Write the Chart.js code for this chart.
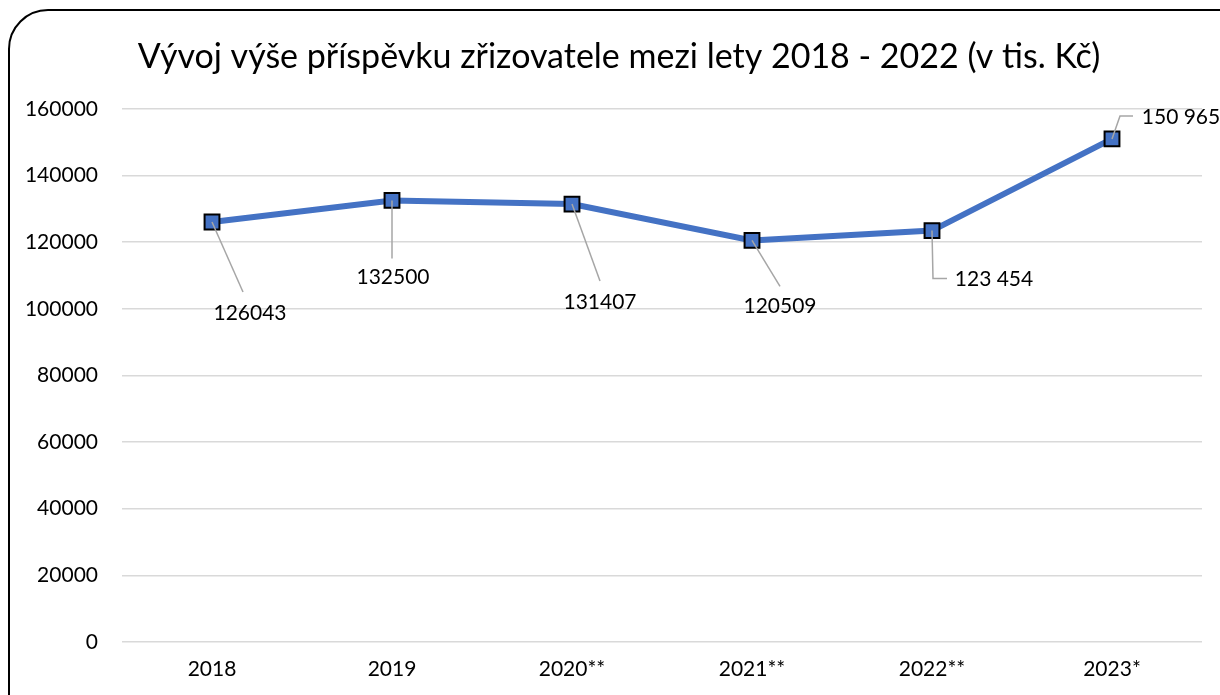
<!DOCTYPE html>
<html>
<head>
<meta charset="utf-8">
<script src="https://cdn.jsdelivr.net/npm/chart.js@4"></script>
<style>
  html, body { margin: 0; padding: 0; background: #fff; overflow: hidden; }
  #wrap { position: relative; width: 1220px; height: 695px; overflow: hidden; }
  #frame { position: absolute; left: 8px; top: 9px; width: 1260px; height: 730px;
           border: 2px solid #000; border-radius: 40px; box-sizing: border-box; }
  canvas { position: absolute; left: 0; top: 0; }
</style>
</head>
<body>
<div id="wrap">
  <div id="frame"></div>
  <canvas id="c" width="1220" height="695"></canvas>
</div>
<script>
const years = ['2018', '2019', '2020**', '2021**', '2022**', '2023*'];
const amounts = [126043, 132500, 131407, 120509, 123454, 150965];
const labelTexts = ['126043', '132500', '131407', '120509', '123 454', '150 965'];
const yTicks = [0, 20000, 40000, 60000, 80000, 100000, 120000, 140000, 160000];

const FONT = 'Lato, "Open Sans", sans-serif';

// label centre + leader path, relative to each point (px)
const labelPlacement = [
  { dx: 38, dy: 91, path: [[31, 70]] },
  { dx: 1, dy: 77, path: [[0, 58]] },
  { dx: 28, dy: 98, path: [[28, 77]] },
  { dx: 28, dy: 66, path: [[28, 46]] },
  { dx: 62, dy: 49, path: [[1, 48], [15, 48]] },
  { dx: 69, dy: -22, path: [[8, -23], [21, -23]] }
];

const leaderLabels = {
  id: 'leaderLabels',
  afterLayout(chart) {
    // centre the title a bit more to the right, like the original
    if (chart.titleBlock) chart.titleBlock.left = 36;
  },
  afterDatasetsDraw(chart) {
    const ctx = chart.ctx;
    const pts = chart.getDatasetMeta(0).data;
    ctx.save();
    pts.forEach((p, i) => {
      const pl = labelPlacement[i];
      ctx.strokeStyle = '#a6a6a6';
      ctx.lineWidth = 1.5;
      ctx.beginPath();
      ctx.moveTo(p.x, p.y);
      pl.path.forEach(([dx, dy]) => ctx.lineTo(p.x + dx, p.y + dy));
      ctx.stroke();
      ctx.fillStyle = '#000';
      ctx.font = '21px ' + FONT;
      ctx.textAlign = 'center';
      ctx.textBaseline = 'middle';
      ctx.fillText(labelTexts[i], p.x + pl.dx, p.y + pl.dy);
    });
    ctx.restore();
  }
};

new Chart(document.getElementById('c'), {
  type: 'line',
  data: {
    labels: years,
    datasets: [{
      data: amounts,
      borderColor: '#4472c4',
      backgroundColor: '#4472c4',
      borderWidth: 6,
      tension: 0,
      pointStyle: 'rect',
      pointRadius: 10.5,
      pointBorderColor: '#000',
      pointBorderWidth: 2,
      pointBackgroundColor: '#4472c4'
    }]
  },
  options: {
    responsive: false,
    animation: false,
    layout: { padding: { top: 0, right: 18, bottom: 0, left: 0 } },
    plugins: {
      legend: { display: false },
      tooltip: { enabled: false },
      title: {
        display: true,
        text: 'Vývoj výše příspěvku zřizovatele mezi lety 2018 - 2022 (v tis. Kč)',
        color: '#000',
        font: { family: FONT, size: 34, weight: 'normal' },
        padding: { top: 37, bottom: 31 }
      }
    },
    scales: {
      x: {
        offset: true,
        grid: { display: false },
        border: { display: false },
        ticks: { color: '#000', font: { family: FONT, size: 21 }, padding: 7 },
        afterFit(scale) { scale.height = 53; }
      },
      y: {
        min: 0,
        max: 160000,
        afterBuildTicks(scale) { scale.ticks = yTicks.map(v => ({ value: v })); },
        grid: { color: '#d9d9d9', lineWidth: 1.5, drawTicks: false },
        border: { display: false },
        ticks: {
          color: '#000', font: { family: FONT, size: 21 }, padding: 24,
          callback: v => String(v)
        },
        afterFit(scale) { scale.width = 122; }
      }
    }
  },
  plugins: [leaderLabels]
});
</script>
</body>
</html>
